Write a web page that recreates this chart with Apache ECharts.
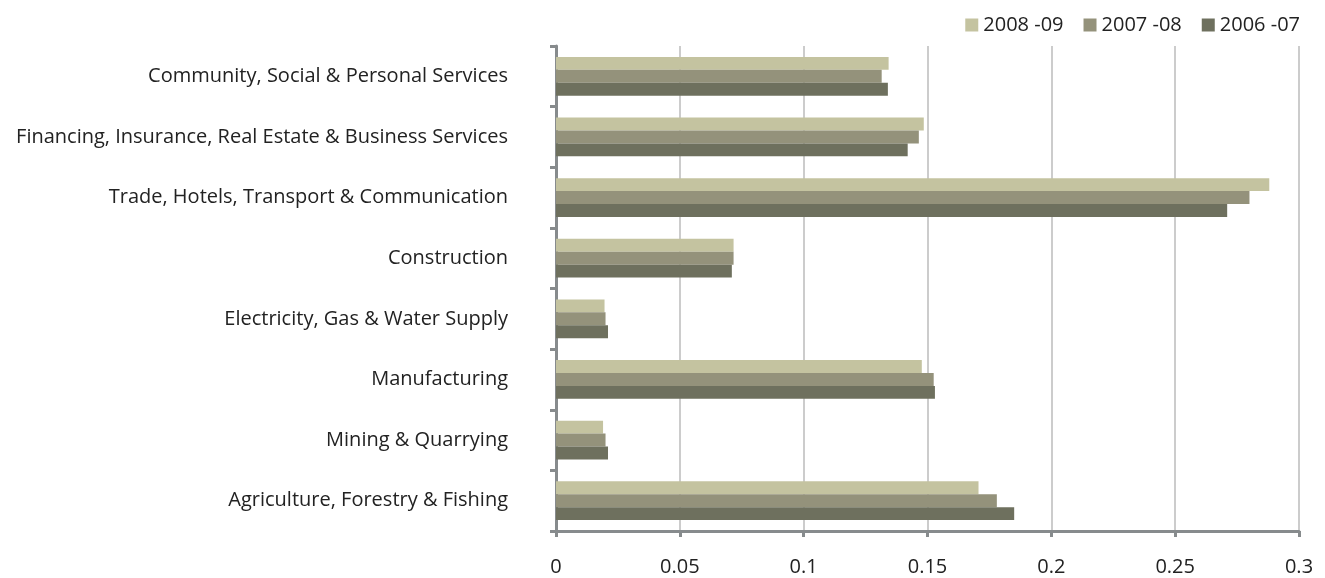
<!DOCTYPE html>
<html>
<head>
<meta charset="utf-8">
<script src="https://cdn.jsdelivr.net/npm/echarts@6/dist/echarts.min.js"></script>
<style>
html,body{margin:0;padding:0;background:#fff;}
#chart{width:1325px;height:578px;}
</style>
</head>
<body>
<div id="chart"></div>
<script>
const categories = [
  "Agriculture, Forestry & Fishing",
  "Mining & Quarrying",
  "Manufacturing",
  "Electricity, Gas & Water Supply",
  "Construction",
  "Trade, Hotels, Transport & Communication",
  "Financing, Insurance, Real Estate & Business Services",
  "Community, Social & Personal Services"
];
const seriesNames = ["2008 -09", "2007 -08", "2006 -07"];
const values2008_09 = [0.1706, 0.019, 0.1477, 0.0196, 0.0717, 0.288, 0.1485, 0.1343];
const values2007_08 = [0.178, 0.020, 0.1525, 0.020, 0.0717, 0.280, 0.1465, 0.1315];
const values2006_07 = [0.185, 0.021, 0.153, 0.021, 0.071, 0.271, 0.142, 0.134];
const xTicks = { min: 0, max: 0.3, interval: 0.05 };
const colors = ["#c4c3a0", "#94927b", "#6e705e"];

const FONT = "'Liberation Sans Narrow', 'Open Sans', sans-serif";
const chart = echarts.init(document.getElementById('chart'));
const seriesData = [values2008_09, values2007_08, values2006_07];
chart.setOption({
  animation: false,
  textStyle: { fontFamily: FONT },
  legend: {
    data: seriesNames,
    right: 20,
    top: 10,
    itemWidth: 13,
    itemHeight: 13,
    itemGap: 20,
    icon: 'rect',
    textStyle: { fontSize: 20, color: '#222', fontFamily: FONT }
  },
  grid: { left: 556, right: 26, top: 46, bottom: 47, containLabel: false },
  xAxis: {
    type: 'value',
    min: xTicks.min, max: xTicks.max, interval: xTicks.interval,
    axisLine: { show: true, lineStyle: { color: '#878b8d', width: 3 } },
    axisTick: { show: true, length: 6, lineStyle: { color: '#878b8d', width: 3 } },
    splitLine: { show: true, lineStyle: { color: '#cccccc', width: 2 } },
    axisLabel: { fontSize: 20, color: '#222', margin: 26, fontFamily: FONT,
      formatter: v => String(+v.toFixed(2)) }
  },
  yAxis: {
    type: 'category',
    data: categories,
    axisLine: { show: true, lineStyle: { color: '#878b8d', width: 3 } },
    axisTick: { show: true, length: 6, lineStyle: { color: '#878b8d', width: 3 } },
    axisLabel: { fontSize: 20, color: '#222', margin: 48, fontFamily: FONT }
  },
  series: seriesData.map((d, i) => ({
    name: seriesNames[i],
    type: 'bar',
    data: d,
    barGap: '0%',
    barCategoryGap: '36%',
    itemStyle: { color: colors[i] }
  }))
});
</script>
</body>
</html>
